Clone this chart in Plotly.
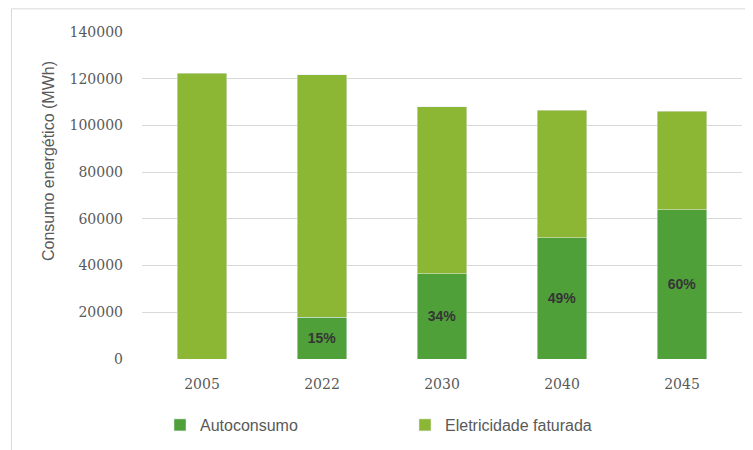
import plotly.graph_objects as go

anos = ["2005", "2022", "2030", "2040", "2045"]
autoconsumo = [0, 17800, 36400, 51900, 63800]
total = [122300, 121700, 108100, 106600, 106100]
faturada = [t - a for t, a in zip(total, autoconsumo)]
rotulos = ["", "15%", "34%", "49%", "60%"]

DARK = "#50A03A"
LIGHT = "#8CB735"
GRAY = "#595959"

W, H = 745, 442  # a página tem 8px de margem no body

fig = go.Figure()
fig.add_trace(go.Bar(x=anos, y=autoconsumo, name="Autoconsumo", marker_color=DARK,
                     text=rotulos, textposition="inside", insidetextanchor="middle",
                     textfont=dict(family="Liberation Sans", size=14, color="#353535", weight="bold"),
                     hoverinfo="x+y"))
fig.add_trace(go.Bar(x=anos, y=faturada, name="Eletricidade faturada", marker_color=LIGHT,
                     hoverinfo="x+y"))

# moldura (só topo e esquerda visíveis)
x0 = (3.5 - 134) / 600; y1 = (351.3 - 0.5) / 327.6
fig.add_shape(type="line", xref="paper", yref="paper", x0=x0, x1=x0, y0=-0.4, y1=y1,
              line=dict(color="#D9D9D9", width=1))
fig.add_shape(type="line", xref="paper", yref="paper", x0=x0, x1=1.1, y0=y1, y1=y1,
              line=dict(color="#D9D9D9", width=1))

# título do eixo y
fig.add_annotation(text="Consumo energético (MWh)", textangle=-90, showarrow=False,
                   xref="paper", yref="paper", x=(40 - 134) / 600, y=(351.3 - 153) / 327.6,
                   xanchor="center", yanchor="middle",
                   font=dict(family="Liberation Sans", size=16, color=GRAY))

fig.update_layout(
    width=W, height=H,
    barmode="stack", bargap=0.59,
    paper_bgcolor="#FFFFFF", plot_bgcolor="#FFFFFF",
    margin=dict(l=134, r=11, t=24, b=91, autoexpand=False),
    font=dict(family="Liberation Sans", size=14, color=GRAY),
    uniformtext=dict(mode="show", minsize=10),
    legend=dict(orientation="h", traceorder="normal", x=0.03, xanchor="left",
                yref="container", y=1 - 417 / H, yanchor="middle",
                entrywidth=200, entrywidthmode="pixels",
                font=dict(family="Liberation Sans", size=16, color=GRAY)),
    xaxis=dict(showgrid=False, showline=False, ticks="", ticklabelstandoff=15,
               tickfont=dict(family="DejaVu Serif", size=14, color=GRAY)),
    yaxis=dict(range=[0, 140000], dtick=20000, showgrid=True, gridcolor="#D9D9D9",
               zeroline=False, showline=False, tickformat="d", ticklabelstandoff=18,
               tickfont=dict(family="DejaVu Serif", size=14, color=GRAY)),
)
fig.write_html("out.html")
